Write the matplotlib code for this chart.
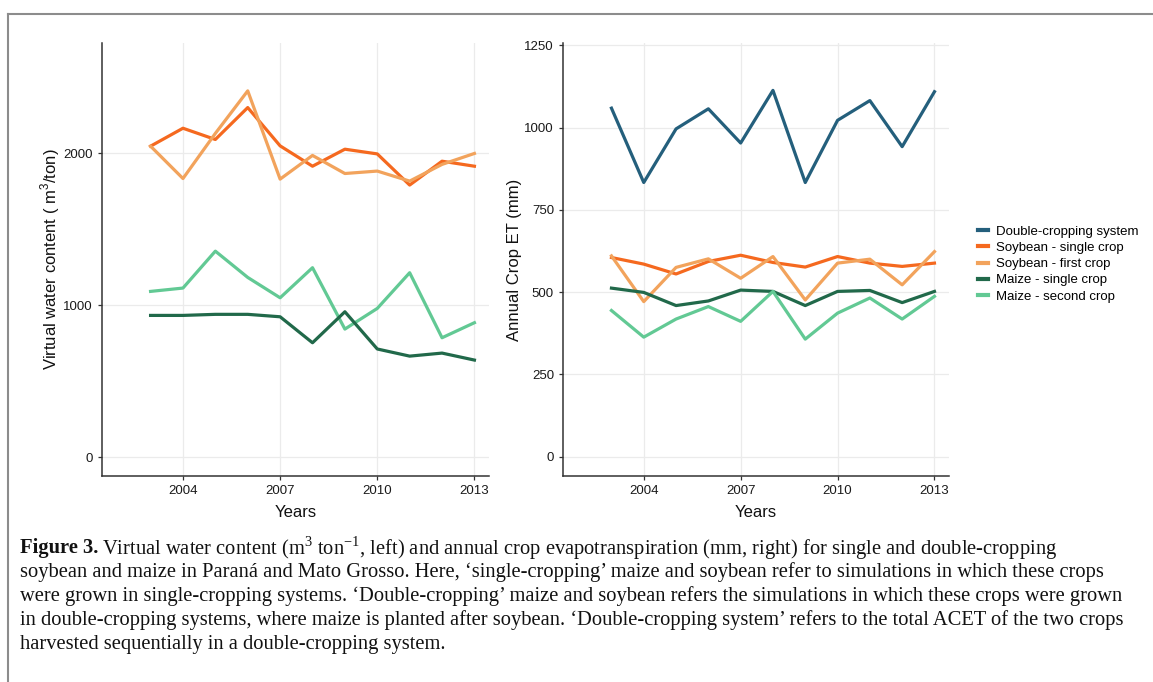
# Virtual water content and annual crop ET, 2003-2013
import numpy as np
import matplotlib.pyplot as plt
from matplotlib.lines import Line2D

plt.rcParams['font.family'] = ['Liberation Sans', 'DejaVu Sans']
plt.rcParams['mathtext.fontset'] = 'custom'
plt.rcParams['mathtext.rm'] = 'Liberation Sans'

years = np.arange(2003, 2014)

# virtual water content (m3/ton)
vwc_soy_single = [2046, 2164, 2090, 2300, 2048, 1914, 2026, 1995, 1790, 1947, 1914]
vwc_soy_first = [2046, 1833, 2130, 2410, 1829, 1985, 1866, 1882, 1816, 1926, 1998]
vwc_maize_single = [932, 932, 939, 939, 923, 752, 956, 711, 664, 684, 638]
vwc_maize_second = [1090, 1112, 1355, 1182, 1048, 1246, 842, 978, 1213, 785, 884]

# annual crop ET (mm)
et_double = [1059, 833, 996, 1057, 953, 1113, 833, 1022, 1082, 942, 1109]
et_soy_single = [605, 585, 555, 593, 612, 590, 576, 608, 588, 578, 588]
et_soy_first = [610, 471, 575, 601, 542, 608, 476, 588, 600, 522, 623]
et_maize_single = [512, 499, 459, 473, 506, 502, 459, 502, 505, 468, 502]
et_maize_second = [444, 363, 418, 456, 411, 502, 357, 436, 482, 418, 487]

labels = ['Double-cropping system', 'Soybean - single crop', 'Soybean - first crop',
          'Maize - single crop', 'Maize - second crop']
colors = ['#245f7c', '#f5691f', '#f2a35c', '#21694a', '#62c994']

fig = plt.figure(figsize=(11.53, 6.82), dpi=100)

# page frame
fig.add_artist(Line2D([8/1153, 8/1153], [0, 1 - 14/682], color='#8c8c8c', lw=1.5))
fig.add_artist(Line2D([8/1153, 1], [1 - 14/682, 1 - 14/682], color='#8c8c8c', lw=1.5))

ax1 = fig.add_axes([102/1153, 1 - 476/682, 387/1153, 433/682])
ax2 = fig.add_axes([563/1153, 1 - 476/682, 386/1153, 433/682])


def style(ax):
    for s in ['top', 'right']:
        ax.spines[s].set_visible(False)
    for s in ['left', 'bottom']:
        ax.spines[s].set_color('#333333')
        ax.spines[s].set_linewidth(1.1)
    ax.grid(True, color='#ebebeb', lw=0.9)
    ax.set_axisbelow(True)
    ax.tick_params(colors='#333333', labelcolor='#1a1a1a', labelsize=9.5, length=3, width=0.9)
    ax.set_xticks([2004, 2007, 2010, 2013])
    ax.set_xlim(2001.5, 2013.45)
    ax.set_xlabel('Years', fontsize=12, color='#111111', labelpad=6)


lw = 2.3
ax1.plot(years, vwc_soy_single, color=colors[1], lw=lw)
ax1.plot(years, vwc_soy_first, color=colors[2], lw=lw)
ax1.plot(years, vwc_maize_second, color=colors[4], lw=lw)
ax1.plot(years, vwc_maize_single, color=colors[3], lw=lw)
style(ax1)
ax1.set_yticks([0, 1000, 2000])
ax1.set_ylim(-125, 2725)
ax1.set_ylabel('Virtual water content ( m$^3$/ton)', fontsize=12, color='#111111', labelpad=1)

ax2.plot(years, et_double, color=colors[0], lw=lw, label=labels[0])
ax2.plot(years, et_soy_single, color=colors[1], lw=lw, label=labels[1])
ax2.plot(years, et_soy_first, color=colors[2], lw=lw, label=labels[2])
ax2.plot(years, et_maize_single, color=colors[3], lw=lw, label=labels[3])
ax2.plot(years, et_maize_second, color=colors[4], lw=lw, label=labels[4])
style(ax2)
ax2.set_yticks([0, 250, 500, 750, 1000, 1250])
ax2.set_ylim(-59, 1257)
ax2.set_ylabel('Annual Crop ET (mm)', fontsize=12, color='#111111', labelpad=2)

handles = [Line2D([], [], color=c, lw=3) for c in colors]
fig.legend(handles, labels, loc='center left', bbox_to_anchor=(966/1153, 1 - 264/682),
           frameon=False, fontsize=9.5, handlelength=0.8, handletextpad=0.6,
           labelspacing=0.3)

# caption
cap_x = 20/1153
line_y = [548, 572, 596, 620, 644]
cap_font = dict(family=['Liberation Serif', 'DejaVu Serif'], fontsize=14.8, color='#111111', va='center')
t0 = fig.text(cap_x, 1 - line_y[0]/682, 'Figure 3.', fontweight='bold', **cap_font)
fig.canvas.draw()
bb = t0.get_window_extent()
plt.rcParams['mathtext.rm'] = 'Liberation Serif'
fig.text(bb.x1/1153 + 4/1153, 1 - line_y[0]/682,
         r'Virtual water content (m$^3$ ton$^{-1}$, left) and annual crop evapotranspiration (mm, right) for single and double-cropping',
         **cap_font)
rest = [
    'soybean and maize in Paraná and Mato Grosso. Here, \u2018single-cropping\u2019 maize and soybean refer to simulations in which these crops',
    'were grown in single-cropping systems. \u2018Double-cropping\u2019 maize and soybean refers the simulations in which these crops were grown',
    'in double-cropping systems, where maize is planted after soybean. \u2018Double-cropping system\u2019 refers to the total ACET of the two crops',
    'harvested sequentially in a double-cropping system.',
]
for yy, s in zip(line_y[1:], rest):
    fig.text(cap_x, 1 - yy/682, s, **cap_font)

fig.savefig('out.png', dpi=100)
